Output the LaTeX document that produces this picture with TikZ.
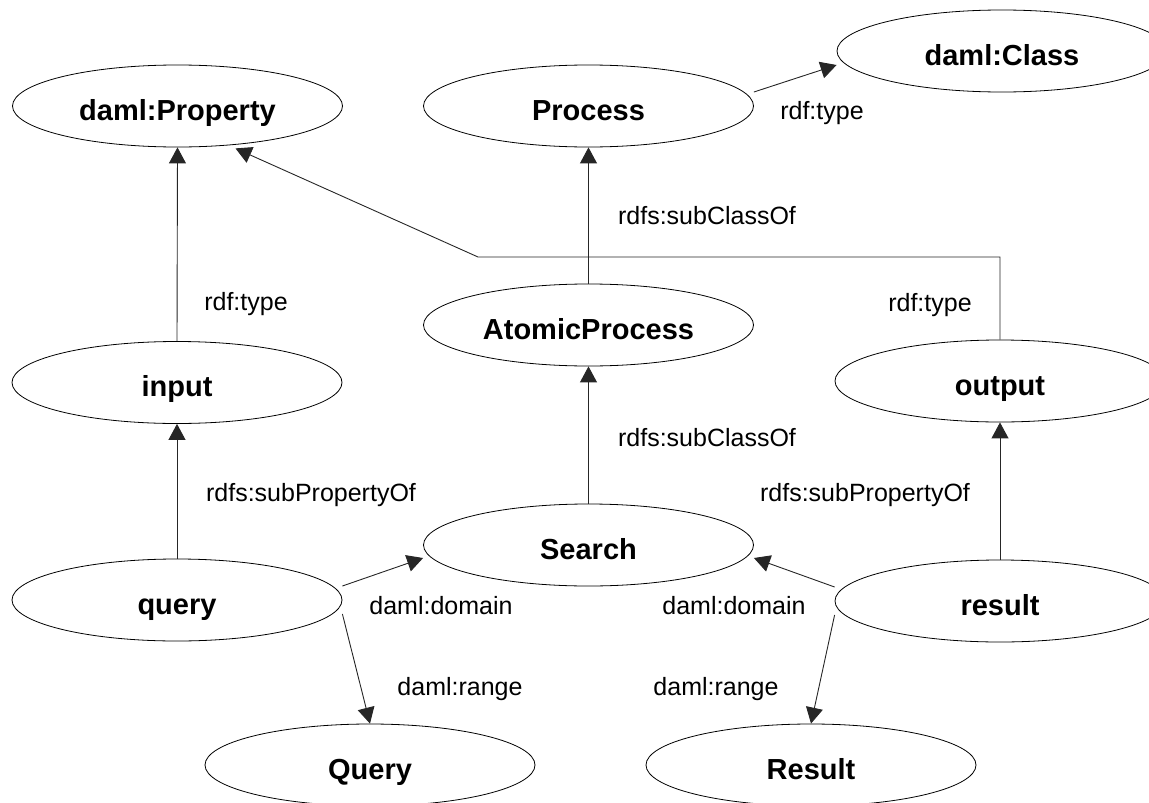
\documentclass[tikz,border=0pt]{standalone}
\usepackage{fontspec}
\setmainfont{Liberation Sans}
\usetikzlibrary{shapes.geometric,arrows.meta}

\tikzset{
  concept/.style={ellipse, draw=black, line width=0.8pt, inner sep=0pt,
    minimum width=330pt, minimum height=82pt, text height=28pt, text depth=0pt,
    font=\fontsize{29}{34}\selectfont\bfseries},
  rel/.style={font=\fontsize{25}{30}\selectfont, inner sep=0pt, anchor=center},
  link/.style={draw=black!85, line width=0.9pt,
    -{Triangle[length=16pt,width=17pt]}},
}

\begin{document}
\begin{tikzpicture}[x=1pt, y=-1pt]
  \useasboundingbox (0,0) rectangle (1149,803);
  \clip (0,0) rectangle (1149,803);

  % classes and properties
  \node[concept] (prop)    at (177.5,106) {daml:Property};
  \node[concept] (process) at (588.5,106) {Process};
  \node[concept] (class)   at (1002,51)   {daml:Class};
  \node[concept] (atomic)  at (588.5,325) {AtomicProcess};
  \node[concept] (input)   at (177,382.5) {input};
  \node[concept] (output)  at (1000,381)  {output};
  \node[concept] (search)  at (588.5,545) {Search};
  \node[concept] (query)   at (177,600)   {query};
  \node[concept] (result)  at (1000,601)  {result};
  \node[concept] (Query)   at (370,765)   {Query};
  \node[concept] (Result)  at (811,765)   {Result};

  % bend of the output type edge
  \coordinate (bend) at (478,257);

  % edges
  \draw[link] ([yshift=14pt]process.east) -- ([yshift=-14pt]class.west);
  \draw[link] (atomic.north) -- (process.south);
  \draw[link] (search.north) -- (atomic.south);
  \draw[link] (input.north) -- (prop.south);
  \draw[link] (query.north) -- (input.south);
  \draw[link] (result.north) -- (output.south);
  \draw[link] (output.north) |- (bend) -- ([xshift=58pt,yshift=-1pt]prop.south);
  \draw[link] ([yshift=14pt]query.east) -- ([yshift=-13pt]search.west);
  \draw[link] ([yshift=-14pt]query.east) -- (Query.north);
  \draw[link] ([yshift=14pt]result.west) -- ([yshift=-13pt]search.east);
  \draw[link] ([yshift=-14pt]result.west) -- (Result.north);

  % edge labels
  \node[rel] (l1)  at (822,113)   {rdf:type};
  \node[rel] (l2)  at (707,216)   {rdfs:subClassOf};
  \node[rel] (l3)  at (246,304)   {rdf:type};
  \node[rel] (l4)  at (930,305)   {rdf:type};
  \node[rel] (l5)  at (707,438)   {rdfs:subClassOf};
  \node[rel] (l6)  at (311,495)   {rdfs:subPropertyOf};
  \node[rel] (l7)  at (865,495)   {rdfs:subPropertyOf};
  \node[rel] (l8)  at (441,606)   {daml:domain};
  \node[rel] (l9)  at (734,606)   {daml:domain};
  \node[rel] (l10) at (460,689)   {daml:range};
  \node[rel] (l11) at (716,689)   {daml:range};
\end{tikzpicture}
\end{document}
